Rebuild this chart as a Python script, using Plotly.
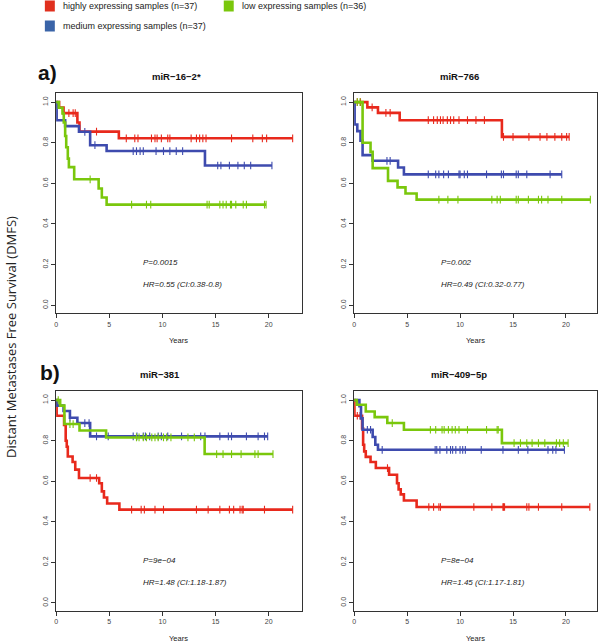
import numpy as np
import plotly.graph_objects as go

# ---- data ----
group_labels = ['highly expressing samples (n=37)', 'medium expressing samples (n=37)',
                'low expressing samples (n=36)']
panel_titles = ['miR−16−2*', 'miR−766', 'miR−381', 'miR−409−5p']
p_texts = ['P=0.0015', 'P=0.002', 'P=9e−04', 'P=8e−04']
hr_texts = ['HR=0.55 (CI:0.38-0.8)', 'HR=0.49 (CI:0.32-0.77)',
            'HR=1.48 (CI:1.18-1.87)', 'HR=1.45 (CI:1.17-1.81)']
x_ticks = [0, 5, 10, 15, 20]
y_ticks = [0.0, 0.2, 0.4, 0.6, 0.8, 1.0]

# miR-16-2*
a_high_t = [0, 0.28, 0.7, 2.0, 2.2, 5.9]
a_high_s = [1.0, 0.973, 0.946, 0.90, 0.855, 0.822]
a_high_c = [1.2, 1.6, 1.8, 3.8, 6.6, 7.4, 7.7, 8.97, 9.3, 9.5, 9.9, 10.5, 10.7, 12.7, 13.2,
            13.5, 13.8, 14.1, 16.5, 18.5, 19.4, 19.8, 22.25]
a_med_t = [0, 0.05, 0.85, 2.15, 3.2, 4.75, 14.0]
a_med_s = [1.0, 0.911, 0.882, 0.854, 0.788, 0.759, 0.688]
a_med_c = [2.7, 3.65, 7.25, 7.56, 7.9, 8.2, 9.4, 10.1, 10.7, 11.3, 11.9, 15.2, 15.5, 16.3,
           17.1, 17.7, 18.3, 20.3]
a_low_t = [0, 0.25, 0.6, 0.72, 0.85, 0.95, 1.1, 1.2, 1.7, 4.0, 4.3, 4.75]
a_low_s = [1.0, 0.972, 0.944, 0.90, 0.833, 0.778, 0.722, 0.68, 0.62, 0.575, 0.53, 0.495]
a_low_c = [3.2, 7.1, 8.5, 8.9, 14.2, 14.4, 15.4, 15.7, 16.0, 16.4, 16.5, 16.9, 17.6, 17.9,
           19.6, 19.75]

# miR-766
c_high_t = [0, 1.25, 2.25, 4.3, 13.95]
c_high_s = [1.0, 0.974, 0.947, 0.911, 0.829]
c_high_c = [0.3, 0.6, 1.7, 3.0, 3.4, 7.0, 7.5, 7.85, 8.15, 8.4, 8.8, 9.1, 9.4, 9.9, 10.7,
            11.5, 12.3, 14.1, 15.0, 16.5, 17.55, 18.2, 18.95, 19.6, 20.06, 20.3]
c_med_t = [0, 0.05, 0.3, 0.6, 0.8, 1.75, 4.15, 4.7]
c_med_s = [1.0, 0.89, 0.857, 0.81, 0.739, 0.711, 0.678, 0.644]
c_med_c = [3.1, 3.4, 7.0, 7.7, 8.0, 8.45, 8.9, 9.9, 10.0, 10.4, 10.7, 12.5, 13.9, 14.1,
           15.3, 15.5, 16.3, 18.5, 19.6]
c_low_t = [0, 0.8, 1.55, 1.75, 3.2, 4.1, 4.85, 5.9]
c_low_s = [1.0, 0.80, 0.755, 0.675, 0.612, 0.58, 0.55, 0.52]
c_low_c = [0.3, 0.56, 8.0, 8.85, 9.8, 13.0, 13.5, 13.8, 15.3, 15.5, 16.45, 17.4, 17.7, 18.3,
           19.6, 22.3]

# miR-381
b_high_t = [0, 0.05, 0.75, 0.9, 1.0, 1.1, 1.55, 1.8, 2.15, 4.05, 4.3, 4.5, 4.8, 5.95]
b_high_s = [1.0, 0.923, 0.878, 0.80, 0.77, 0.722, 0.695, 0.657, 0.616, 0.59, 0.55, 0.52,
            0.49, 0.46]
b_high_c = [3.2, 3.8, 7.1, 8.0, 8.3, 9.3, 10.1, 13.2, 14.3, 15.4, 16.3, 16.7, 17.3, 17.5,
            17.6, 19.6, 22.25]
b_med_t = [0, 0.1, 0.7, 1.3, 2.0, 3.2]
b_med_s = [1.0, 0.973, 0.946, 0.913, 0.887, 0.821]
b_med_c = [1.3, 2.7, 3.1, 3.8, 4.9, 7.25, 7.6, 8.2, 8.4, 8.8, 9.6, 9.9, 10.5, 11.8, 13.6,
           14.0, 15.4, 16.2, 16.5, 17.9, 19.0, 19.6, 19.9]
b_low_t = [0, 0.38, 0.78, 2.2, 4.7, 13.97]
b_low_s = [1.0, 0.973, 0.882, 0.85, 0.816, 0.734]
b_low_c = [0.2, 1.3, 1.6, 7.56, 7.8, 8.2, 8.5, 9.0, 9.3, 9.6, 10.1, 10.4, 10.8, 12.4, 13.0,
           15.1, 15.7, 16.5, 17.4, 18.7, 19.0, 20.4]

# miR-409-5p
d_high_t = [0, 0.03, 0.75, 0.85, 0.95, 1.1, 1.55, 2.05, 3.3, 4.05, 4.2, 4.4, 4.7, 5.9]
d_high_s = [1.0, 0.923, 0.86, 0.78, 0.747, 0.72, 0.695, 0.665, 0.632, 0.59, 0.56, 0.535,
            0.505, 0.473]
d_high_c = [0.3, 0.56, 3.15, 7.05, 7.5, 8.0, 8.15, 11.3, 13.0, 14.05, 14.1, 14.2, 16.3,
            16.5, 17.4, 19.6, 22.25]
d_med_t = [0, 0.5, 0.65, 0.8, 1.75, 2.0, 2.25]
d_med_s = [1.0, 0.97, 0.91, 0.854, 0.818, 0.78, 0.755]
d_med_c = [1.25, 1.55, 2.65, 7.65, 7.8, 8.1, 8.75, 9.1, 9.3, 9.6, 10.0, 10.25, 10.5, 12.0,
           14.05, 15.5, 16.4, 18.3, 18.75, 19.05, 19.85]
d_low_t = [0, 0.25, 1.1, 1.94, 3.13, 4.7, 13.95]
d_low_s = [1.0, 0.977, 0.944, 0.916, 0.887, 0.854, 0.788]
d_low_c = [3.6, 7.2, 7.7, 8.3, 8.5, 8.9, 9.25, 9.55, 9.9, 10.7, 12.5, 13.5, 13.6, 15.1, 15.7,
           16.3, 16.8, 17.4, 18.0, 19.1, 19.4, 19.75, 20.2]

panels = [
    [(a_high_t, a_high_s, a_high_c), (a_med_t, a_med_s, a_med_c), (a_low_t, a_low_s, a_low_c)],
    [(c_high_t, c_high_s, c_high_c), (c_med_t, c_med_s, c_med_c), (c_low_t, c_low_s, c_low_c)],
    [(b_high_t, b_high_s, b_high_c), (b_med_t, b_med_s, b_med_c), (b_low_t, b_low_s, b_low_c)],
    [(d_high_t, d_high_s, d_high_c), (d_med_t, d_med_s, d_med_c), (d_low_t, d_low_s, d_low_c)],
]

# ---- styling ----
W, H = 600, 644
line_colors = ['#E8291C', '#3E4BAE', '#7AC70C']
legend_colors = ['#E0301E', '#3A64A8', '#7AC70C']
# pixel boxes of the four plot frames: (left, right, top, bottom)
boxes = [(54.3, 300.7, 93, 313.3), (353.3, 596.7, 93, 313.3),
         (54.3, 300.7, 391, 611), (353.3, 596.7, 391, 611)]
x_ranges = [[0, 23.1], [0, 22.9], [0, 23.1], [0, 22.9]]
title_pos = [(175, 77), (459, 77), (159, 374), (459, 374)]


def px(x):
    return x / W


def py(y):
    return 1 - y / H


fig = go.Figure()
layout = dict(width=W, height=H, margin=dict(l=0, r=0, t=0, b=0),
              paper_bgcolor='white', plot_bgcolor='white', showlegend=False,
              font=dict(family='Liberation Sans, Arial, sans-serif', color='#222'))
annotations = []
shapes = []

for i, (curves, box) in enumerate(zip(panels, boxes)):
    n = i + 1
    xa = 'x' if n == 1 else f'x{n}'
    ya = 'y' if n == 1 else f'y{n}'
    l, r, t, b = box
    axis_style = dict(showline=True, mirror=True, linecolor='#333', linewidth=1,
                      ticks='outside', ticklen=4, tickcolor='#333', showgrid=False,
                      zeroline=False, tickfont=dict(size=7, color='#444'))
    layout['xaxis' if n == 1 else f'xaxis{n}'] = dict(
        domain=[px(l), px(r)], range=x_ranges[i], anchor=ya, tickvals=x_ticks, **axis_style)
    layout['yaxis' if n == 1 else f'yaxis{n}'] = dict(
        domain=[py(b), py(t)], range=[-0.04, 1.045], anchor=xa, tickvals=y_ticks,
        tickformat='.1f', tickangle=-90, **axis_style)

    for (tt, ss, cc), col in zip(curves, line_colors):
        end = max(cc)
        xs = list(tt) + [end]
        ys = list(ss) + [ss[-1]]
        fig.add_trace(go.Scatter(x=xs, y=ys, mode='lines', line_shape='hv',
                                 line=dict(color=col, width=2.6), xaxis=xa, yaxis=ya,
                                 hoverinfo='skip'))
        idx = np.searchsorted(np.array(tt), np.array(cc), side='right') - 1
        cy = np.array(ss)[idx]
        fig.add_trace(go.Scatter(x=cc, y=cy, mode='markers', xaxis=xa, yaxis=ya,
                                 marker=dict(symbol='line-ns', size=5.5,
                                             line=dict(color=col, width=1.1)),
                                 hoverinfo='skip'))

    # panel title
    annotations.append(dict(x=px(title_pos[i][0]), y=py(title_pos[i][1]), xref='paper',
                            yref='paper', text=f'<b>{panel_titles[i]}</b>', showarrow=False,
                            font=dict(size=9.5, color='#111'), xanchor='center',
                            yanchor='middle'))
    # stats text
    annotations.append(dict(x=8.0, y=0.21, xref=xa, yref=ya, text=f'<i>{p_texts[i]}</i>',
                            showarrow=False, xanchor='left', yanchor='middle',
                            font=dict(size=8, color='#222')))
    annotations.append(dict(x=8.0, y=0.10, xref=xa, yref=ya, text=f'<i>{hr_texts[i]}</i>',
                            showarrow=False, xanchor='left', yanchor='middle',
                            font=dict(size=8, color='#222')))
    # x-axis title (kept just inside the bottom edge)
    annotations.append(dict(x=px((l + r) / 2), y=py(b + 27.5), xref='paper', yref='paper',
                            text='Years', showarrow=False, xanchor='center',
                            yanchor='middle', font=dict(size=7.5, color='#222')))

# panel letters
for letter, (lx, ly) in zip(['a)', 'b)'], [(46, 73), (48, 373)]):
    annotations.append(dict(x=px(lx), y=py(ly), xref='paper', yref='paper',
                            text=f'<b>{letter}</b>', showarrow=False, xanchor='center',
                            yanchor='middle', font=dict(size=21, color='#111')))

# shared y title
annotations.append(dict(x=px(9), y=py(337), xref='paper', yref='paper',
                        text='Distant Metastases Free Survival (DMFS)', textangle=-90,
                        showarrow=False, xanchor='center', yanchor='middle',
                        font=dict(family='Open Sans, sans-serif', size=13, color='#222')))

# legend (squares + labels)
legend_pos = [(48, 6), (48, 26), (227.5, 6)]
for label, col, (lx, ly) in zip(group_labels, legend_colors, legend_pos):
    shapes.append(dict(type='rect', xref='paper', yref='paper', x0=px(lx - 5), x1=px(lx + 5),
                       y0=py(ly + 5.5), y1=py(ly - 5.5), fillcolor=col, line=dict(width=0)))
    annotations.append(dict(x=px(lx + 11), y=py(ly), xref='paper', yref='paper', text=label,
                            showarrow=False, xanchor='left', yanchor='middle',
                            font=dict(size=9, color='#222')))

layout['annotations'] = annotations
layout['shapes'] = shapes
fig.update_layout(**layout)
# page body has a default 8px margin; drop it so the 600x644 figure fills the window
fig.write_html("out.html", config={'displayModeBar': False},
               post_script="document.body.style.margin='0';")
